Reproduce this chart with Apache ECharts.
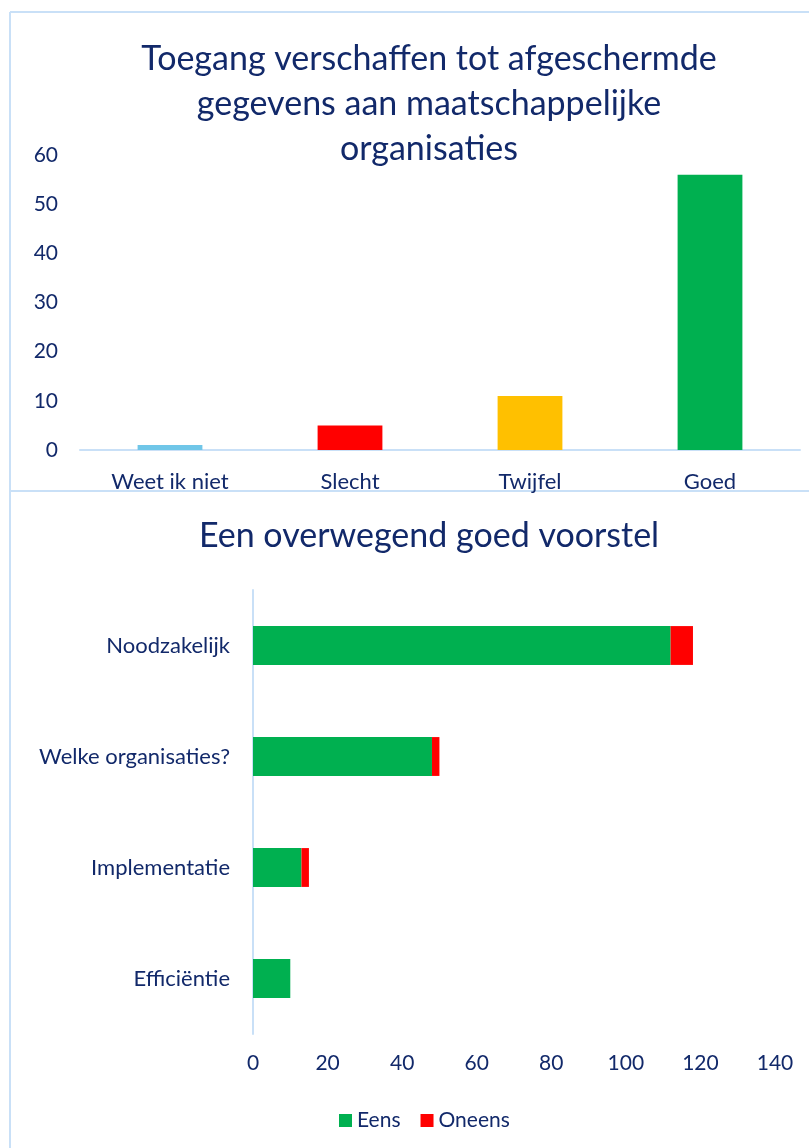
<!DOCTYPE html>
<html>
<head>
<meta charset="utf-8">
<script src="https://cdn.jsdelivr.net/npm/echarts@6/dist/echarts.min.js"></script>
<style>
  html, body { margin: 0; padding: 0; background: #fff; }
  #chart { width: 809px; height: 1148px; }
</style>
</head>
<body>
<div id="chart"></div>
<script>
// bovenste grafiek
var topCategories = ['Weet ik niet', 'Slecht', 'Twijfel', 'Goed'];
var topValues = [1, 5, 11, 56];
var topColors = ['#70C6E8', '#FF0000', '#FFC000', '#00B050'];

// onderste grafiek
var bottomCategories = ['Noodzakelijk', 'Welke organisaties?', 'Implementatie', 'Efficiëntie'];
var eensValues = [112, 48, 13, 10];
var oneensValues = [6, 2, 2, 0];

var textColor = '#12296A';
var lineColor = '#C9E0F7';
var fontFamily = 'Lato, "Open Sans", sans-serif';

var myChart = echarts.init(document.getElementById('chart'));

const option = {
    backgroundColor: '#fff',
    animation: false,
    textStyle: { fontFamily: fontFamily },
    title: [
        {
            text: 'Toegang verschaffen tot afgeschermde\ngegevens aan maatschappelijke\norganisaties',
            left: 424, top: 32, textAlign: 'center',
            textStyle: { color: textColor, fontSize: 34, fontWeight: 'normal', lineHeight: 45, fontFamily: fontFamily }
        },
        {
            text: 'Een overwegend goed voorstel',
            left: 424, top: 514, textAlign: 'center',
            textStyle: { color: textColor, fontSize: 34, fontWeight: 'normal', fontFamily: fontFamily }
        }
    ],
    legend: {
        data: ['Eens', 'Oneens'],
        left: 334, top: 1105,
        itemWidth: 13, itemHeight: 13, itemGap: 20,
        icon: 'rect',
        textStyle: { color: textColor, fontSize: 21, fontFamily: fontFamily }
    },
    graphic: [
        { type: 'line', shape: { x1: 10, y1: 12, x2: 809, y2: 12 }, style: { stroke: lineColor, lineWidth: 2 } },
        { type: 'line', shape: { x1: 10, y1: 12, x2: 10, y2: 1148 }, style: { stroke: lineColor, lineWidth: 2 } },
        { type: 'line', shape: { x1: 10, y1: 491, x2: 809, y2: 491 }, style: { stroke: lineColor, lineWidth: 2 } }
    ],
    grid: [
        { left: 80, right: 9, top: 155, height: 295, containLabel: false },
        { left: 253, right: 34, top: 590, height: 444, containLabel: false }
    ],
    xAxis: [
        {
            gridIndex: 0, type: 'category', data: topCategories,
            axisLine: { lineStyle: { color: lineColor, width: 2 } },
            axisTick: { show: false },
            axisLabel: { color: textColor, fontSize: 22, margin: 21, fontFamily: fontFamily }
        },
        {
            gridIndex: 1, type: 'value', min: 0, max: 140, interval: 20,
            axisLine: { show: false },
            axisTick: { show: false },
            splitLine: { show: false },
            axisLabel: { color: textColor, fontSize: 21, margin: 19, fontFamily: fontFamily }
        }
    ],
    yAxis: [
        {
            gridIndex: 0, type: 'value', min: 0, max: 60, interval: 10,
            axisLine: { show: false },
            axisTick: { show: false },
            splitLine: { show: false },
            axisLabel: { color: textColor, fontSize: 21, margin: 22, align: 'right', fontFamily: fontFamily }
        },
        {
            gridIndex: 1, type: 'category', data: bottomCategories, inverse: true,
            axisLine: { lineStyle: { color: lineColor, width: 2 } },
            axisTick: { show: false },
            axisLabel: { color: textColor, fontSize: 22, margin: 23, fontFamily: fontFamily }
        }
    ],
    series: [
        {
            type: 'bar', xAxisIndex: 0, yAxisIndex: 0,
            barWidth: '36%',
            data: topValues.map(function (v, i) {
                return { value: v, itemStyle: { color: topColors[i] } };
            })
        },
        {
            name: 'Eens', type: 'bar', xAxisIndex: 1, yAxisIndex: 1, stack: 'totaal',
            barWidth: '35%',
            itemStyle: { color: '#00B050' },
            data: eensValues
        },
        {
            name: 'Oneens', type: 'bar', xAxisIndex: 1, yAxisIndex: 1, stack: 'totaal',
            barWidth: '35%',
            itemStyle: { color: '#FF0000' },
            data: oneensValues
        }
    ]
};

myChart.setOption(option);
</script>
</body>
</html>
